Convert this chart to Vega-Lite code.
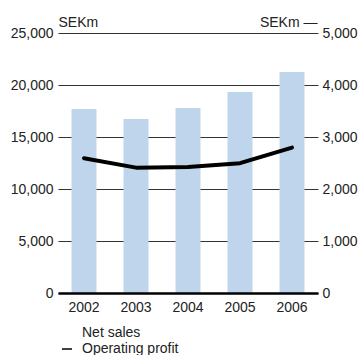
{
  "$schema": "https://vega.github.io/schema/vega-lite/v6.json",
  "width": 260,
  "height": 260,
  "autosize": "none",
  "padding": {"left": 58, "top": 33, "right": 42, "bottom": 62},
  "config": {
    "view": {"stroke": null},
    "font": "Liberation Sans",
    "axis": {"labelFont": "Liberation Sans", "labelFontSize": 14, "labelColor": "#222", "titleFont": "Liberation Sans", "titleFontSize": 14, "titleFontWeight": "normal", "titleColor": "#222"},
    "legend": {"labelFont": "Liberation Sans", "labelFontSize": 14, "labelColor": "#222"}
  },
  "data": {
    "values": [
      {"year": "2002", "sales": 17690, "profit": 2592, "series": "Operating profit"},
      {"year": "2003", "sales": 16730, "profit": 2411, "series": "Operating profit"},
      {"year": "2004", "sales": 17790, "profit": 2424, "series": "Operating profit"},
      {"year": "2005", "sales": 19330, "profit": 2496, "series": "Operating profit"},
      {"year": "2006", "sales": 21250, "profit": 2797, "series": "Operating profit"}
    ]
  },
  "encoding": {
    "x": {
      "field": "year", "type": "ordinal",
      "scale": {"paddingInner": 0.52, "paddingOuter": 0.26},
      "axis": {"title": null, "labelAngle": 0, "ticks": false, "domain": true, "domainColor": "#000", "domainWidth": 2.5, "labelPadding": 7, "zindex": 1}
    }
  },
  "layer": [
    {
      "mark": {"type": "bar", "color": "#bed5ec"},
      "encoding": {
        "y": {
          "field": "sales", "type": "quantitative",
          "scale": {"domain": [0, 25000], "nice": false},
          "axis": {"values": [0, 5000, 10000, 15000, 20000, 25000], "format": ",.0f", "domain": false, "ticks": false, "grid": true, "gridColor": "#333", "gridWidth": 1, "labelPadding": 5, "title": "SEKm", "titleAngle": 0, "titleAlign": "left", "titleBaseline": "alphabetic", "titleX": 0, "titleY": -7}
        }
      }
    },
    {
      "mark": {"type": "line", "strokeWidth": 4, "strokeCap": "round", "strokeJoin": "round"},
      "encoding": {
        "y": {
          "field": "profit", "type": "quantitative",
          "scale": {"domain": [0, 5000], "nice": false},
          "axis": {"orient": "right", "values": [0, 1000, 2000, 3000, 4000, 5000], "format": ",.0f", "domain": false, "ticks": false, "grid": false, "labelPadding": 4, "title": "SEKm —", "titleAngle": 0, "titleAlign": "right", "titleBaseline": "alphabetic", "titleX": -1, "titleY": -7}
        },
        "stroke": {
          "field": "series", "type": "nominal",
          "scale": {"domain": ["Net sales", "Operating profit"], "range": ["transparent", "black"]},
          "legend": {"title": null, "orient": "none", "legendX": 2, "legendY": 293, "direction": "vertical", "symbolType": "stroke", "symbolSize": 100, "symbolStrokeWidth": 1.5, "labelOffset": 8, "rowPadding": 2, "padding": 0}
        }
      }
    }
  ],
  "resolve": {"scale": {"y": "independent"}}
}
